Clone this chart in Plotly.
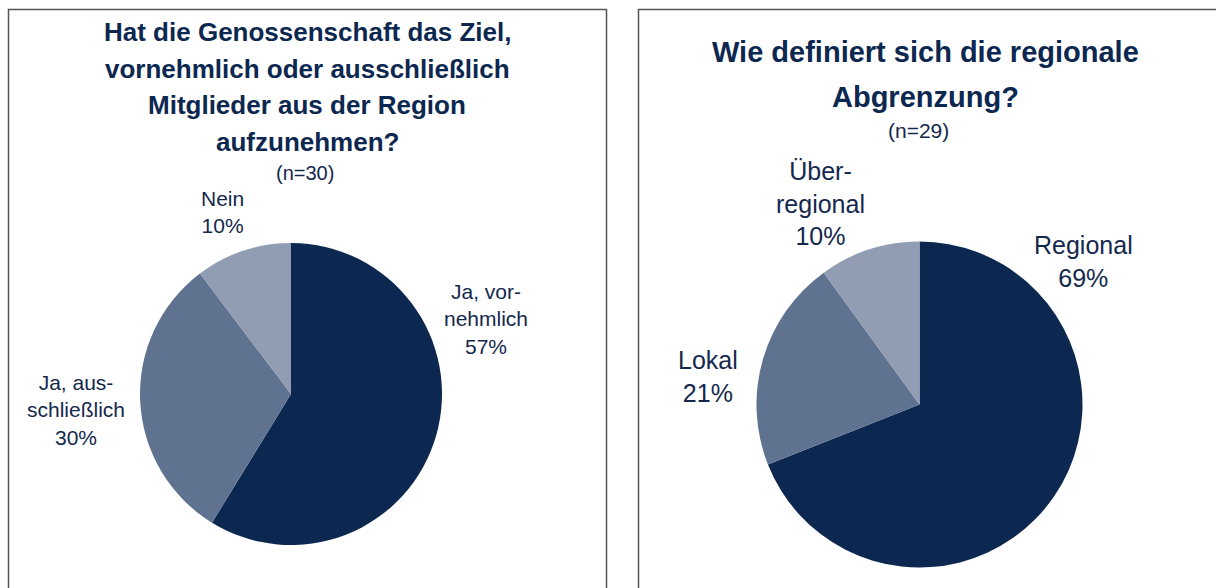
import plotly.graph_objects as go

W, H = 1216, 588

# ---- data ----
left_categories = ["Ja, vornehmlich", "Ja, ausschließlich", "Nein"]
left_values = [57, 30, 10]
left_labels = ["Ja, vor-<br>nehmlich<br>57%", "Ja, aus-<br>schließlich<br>30%", "Nein<br>10%"]
left_title = ["Hat die Genossenschaft das Ziel,", "vornehmlich oder ausschließlich",
              "Mitglieder aus der Region", "aufzunehmen?"]
left_n = "(n=30)"

right_categories = ["Regional", "Lokal", "Überregional"]
right_values = [69, 21, 10]
right_labels = ["Regional<br>69%", "Lokal<br>21%", "Über-<br>regional<br>10%"]
right_title = ["Wie definiert sich die regionale", "Abgrenzung?"]
right_n = "(n=29)"

colors = ["#0C2750", "#5F7391", "#909DB2"]
text_color = "#14284D"
title_color = "#0C2750"
FONT = "Liberation Sans, Arial, sans-serif"


def px_x(x):
    return x / W


def px_y(y):
    return 1 - y / H


def pie_domain(cx, cy, r):
    return dict(x=[px_x(cx - r), px_x(cx + r)], y=[px_y(cy + r), px_y(cy - r)])


fig = go.Figure()
fig.add_trace(go.Pie(
    labels=left_categories, values=left_values, sort=False, direction="clockwise",
    rotation=0, marker=dict(colors=colors, line=dict(width=0)),
    textinfo="none", hoverinfo="label+percent", domain=pie_domain(291, 394, 151),
    showlegend=False,
))
fig.add_trace(go.Pie(
    labels=right_categories, values=right_values, sort=False, direction="clockwise",
    rotation=0, marker=dict(colors=colors, line=dict(width=0)),
    textinfo="none", hoverinfo="label+percent", domain=pie_domain(919.5, 404.5, 163),
    showlegend=False,
))

annotations = []


def add_text(text, x, y, size, bold=False, color=text_color):
    annotations.append(dict(
        text=f"<b>{text}</b>" if bold else text,
        x=px_x(x), y=px_y(y), xref="paper", yref="paper",
        xanchor="center", yanchor="middle", showarrow=False, align="center",
        font=dict(family=FONT, size=size, color=color),
    ))


# titles
for i, line in enumerate(left_title):
    add_text(line, 307, 32 + i * 36.5, 26, bold=True, color=title_color)
add_text(left_n, 305, 173, 20)
for i, line in enumerate(right_title):
    add_text(line, 925, 52 + i * 45, 29, bold=True, color=title_color)
add_text(right_n, 918, 130, 21)

# slice labels
left_pos = [(486, 319), (76, 410), (222, 212)]
for lab, (x, y) in zip(left_labels, left_pos):
    add_text(lab, x, y, 21)
right_pos = [(1083, 262), (708, 376), (820, 203)]
for lab, (x, y) in zip(right_labels, right_pos):
    add_text(lab, x, y, 25)

shapes = [
    dict(type="rect", xref="paper", yref="paper",
         x0=px_x(8.5), x1=px_x(606.5), y0=px_y(620), y1=px_y(9.5),
         line=dict(color="#555555", width=1.5), fillcolor="rgba(0,0,0,0)", layer="below"),
    dict(type="rect", xref="paper", yref="paper",
         x0=px_x(638.5), x1=px_x(1240), y0=px_y(620), y1=px_y(9.5),
         line=dict(color="#555555", width=1.5), fillcolor="rgba(0,0,0,0)", layer="below"),
]

fig.update_layout(
    width=W, height=H, autosize=False,
    margin=dict(l=0, r=0, t=0, b=0),
    paper_bgcolor="white", plot_bgcolor="white",
    annotations=annotations, shapes=shapes,
    font=dict(family=FONT),
)

fig.write_html("out.html", config={"displayModeBar": False},
               post_script="document.body.style.margin='0';document.body.style.overflow='hidden';")
